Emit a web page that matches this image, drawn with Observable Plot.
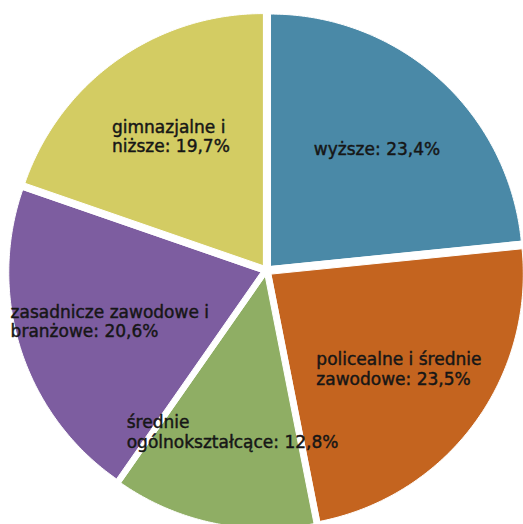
<!DOCTYPE html>
<html>
<head>
<meta charset="utf-8">
<script src="https://cdn.jsdelivr.net/npm/d3@7"></script>
<script src="https://cdn.jsdelivr.net/npm/@observablehq/plot@0.6"></script>
<style>
  html, body { margin: 0; padding: 0; background: #fff; }
  #chart svg { display: block; }
</style>
</head>
<body>
<div id="chart"></div>
<script>
// ---- data ----
const categories = ["wyższe", "policealne i średnie zawodowe", "średnie ogólnokształcące", "zasadnicze zawodowe i branżowe", "gimnazjalne i niższe"];
const labelText = ["wyższe", "policealne i średnie\nzawodowe", "średnie\nogólnokształcące", "zasadnicze zawodowe i\nbranżowe", "gimnazjalne i\nniższe"];
const shares = [23.4, 23.5, 12.8, 20.6, 19.7];
const colors = ["#4A89A7", "#C4641F", "#8FAE64", "#7D5DA0", "#D3CC63"];

// ---- layout ----
const W = 523, H = 524;
const cx = 266, cy = 270, R = 252, explode = 6, labelFrac = 0.63;
const fontSize = 17, fontFamily = "DejaVu Sans";

const rows = categories.map((c, i) => ({cat: c, share: shares[i], lines: labelText[i]}));
const arcs = d3.pie().sort(null).value(d => d.share)(rows);

const pts = [];
const labels = [];
const ctx = document.createElement("canvas").getContext("2d");
ctx.font = `${fontSize}px "${fontFamily}"`;
for (const a of arcs) {
  const mid = (a.startAngle + a.endAngle) / 2;
  const ox = cx + explode * Math.sin(mid), oy = cy - explode * Math.cos(mid);
  pts.push({cat: a.data.cat, x: ox, y: oy});
  const n = 120;
  for (let k = 0; k <= n; k++) {
    const t = a.startAngle + (a.endAngle - a.startAngle) * k / n;
    pts.push({cat: a.data.cat, x: ox + R * Math.sin(t), y: oy - R * Math.cos(t)});
  }
  const txt = a.data.lines + ": " + d3.format(".1f")(a.data.share).replace(".", ",") + "%";
  const wmax = d3.max(txt.split("\n"), s => ctx.measureText(s).width);
  const lx = ox + labelFrac * R * Math.sin(mid), ly = oy - labelFrac * R * Math.cos(mid);
  labels.push({text: txt, x: lx - wmax / 2, y: ly});
}

const chart = Plot.plot({
  width: W, height: H,
  margin: 0,
  x: {domain: [0, W], range: [0, W], axis: null},
  y: {domain: [0, H], range: [0, H], axis: null},
  color: {domain: categories, range: colors},
  marks: [
    Plot.line(pts, {x: "x", y: "y", z: "cat", fill: "cat", stroke: "white", strokeWidth: 1, curve: "linear-closed"}),
    Plot.text(labels, {x: "x", y: "y", text: "text", textAnchor: "start", lineAnchor: "middle",
      fontSize, fontFamily, fill: "#161616", stroke: "#161616", strokeWidth: 0.45, lineHeight: 1.15})
  ]
});
document.getElementById("chart").appendChild(chart);
</script>
</body>
</html>
